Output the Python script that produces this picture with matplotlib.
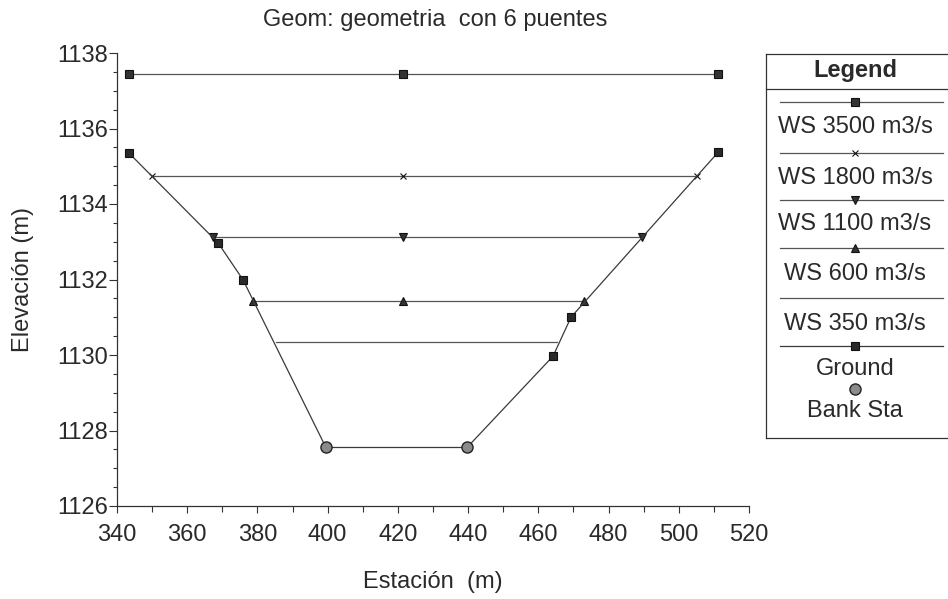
import matplotlib
matplotlib.use("Agg")
import matplotlib.pyplot as plt
from matplotlib.lines import Line2D
from matplotlib.ticker import MultipleLocator

plt.rcParams['font.family'] = ['Liberation Sans', 'DejaVu Sans']

# Cross-section ground profile
ground_x = [343.4, 368.8, 375.9, 399.5, 439.7, 464.2, 469.3, 511.3]
ground_y = [1135.35, 1132.97, 1131.99, 1127.55, 1127.55, 1129.97, 1131.0, 1135.38]

# Bank stations
bank_x = [399.5, 439.7]
bank_y = [1127.55, 1127.55]

# Water surfaces: label, elevation, left edge, right edge
ws_labels = ["WS 3500 m3/s", "WS 1800 m3/s", "WS 1100 m3/s", "WS 600 m3/s", "WS 350 m3/s"]
ws_elev = [1137.45, 1134.75, 1133.12, 1131.43, 1130.35]
ws_left = [343.4, 350.0, 367.3, 378.7, 385.3]
ws_right = [511.3, 505.2, 489.6, 473.0, 465.4]
ws_mid = 421.5
ws_markers = ["s", "x", "v", "^", None]

line_col = "#555555"
text_col = "#2a2a2a"

fig = plt.figure(figsize=(9.48, 5.99), dpi=100)
ax = fig.add_axes([117 / 948, 93 / 599, 632 / 948, 453 / 599])

for lab, el, xl, xr, mk in zip(ws_labels, ws_elev, ws_left, ws_right, ws_markers):
    ax.plot([xl, xr], [el, el], color=line_col, lw=0.9, zorder=2)
    if mk is not None:
        ax.plot([xl, ws_mid, xr], [el, el, el], ls="none", marker=mk,
                ms=5.5 if mk != "x" else 5, mfc="#333333", mec="#111111",
                mew=0.8, zorder=3)

ax.plot(ground_x, ground_y, color="#3a3a3a", lw=0.9, marker="s", ms=6,
        mfc="#2a2a2a", mec="#111111", mew=0.8, zorder=4)
ax.plot(bank_x, bank_y, ls="none", marker="o", ms=8, mfc="#8a8a8a",
        mec="#222222", mew=1.0, zorder=5)

ax.set_xlim(340, 520)
ax.set_ylim(1126, 1138)
ax.xaxis.set_major_locator(MultipleLocator(20))
ax.xaxis.set_minor_locator(MultipleLocator(10))
ax.yaxis.set_major_locator(MultipleLocator(2))
ax.yaxis.set_minor_locator(MultipleLocator(0.5))
for s in ("top", "right"):
    ax.spines[s].set_visible(False)
for s in ("left", "bottom"):
    ax.spines[s].set_color("#333333")
    ax.spines[s].set_linewidth(0.9)
ax.tick_params(which="both", direction="out", width=0.8, colors="#333333",
               labelsize=17, labelcolor=text_col)
ax.tick_params(axis="x", which="major", length=5, pad=8)
ax.tick_params(axis="x", which="minor", length=4)
ax.tick_params(axis="y", which="major", length=5.5, pad=0.8)
ax.tick_params(axis="y", which="minor", length=3)

ax.set_xlabel("Estación  (m)", fontsize=17, color=text_col, labelpad=18)
ax.set_ylabel("Elevación (m)", fontsize=17, color=text_col, labelpad=17)
fig.text(435 / 948, 1 - 20 / 599, "Geom: geometria  con 6 puentes",
         ha="center", va="center", fontsize=17, color=text_col)

# Legend box on the right
def fy(py):
    return 1 - py / 599

lx0, lx1, cx = 766 / 948, 1.0, 855 / 948
for py in (54, 89, 438):
    fig.add_artist(Line2D([lx0, lx1], [fy(py), fy(py)], transform=fig.transFigure,
                          color="#333333", lw=0.9))
fig.add_artist(Line2D([lx0, lx0], [fy(54), fy(438)], transform=fig.transFigure,
                      color="#333333", lw=0.9))
fig.text(cx, fy(71), "Legend", ha="center", va="center", fontsize=17,
         fontweight="bold", color=text_col)

sample_y = [102, 153, 200, 248, 298]
text_y = [127, 178, 224, 274, 324]
for lab, mk, sy, ty in zip(ws_labels, ws_markers, sample_y, text_y):
    fig.add_artist(Line2D([780 / 948, 943 / 948], [fy(sy), fy(sy)],
                          transform=fig.transFigure, color=line_col, lw=0.9))
    if mk is not None:
        fig.add_artist(Line2D([cx], [fy(sy)], transform=fig.transFigure, ls="none",
                              marker=mk, ms=5.5 if mk != "x" else 5, mfc="#333333",
                              mec="#111111", mew=0.8))
    fig.text(cx, fy(ty), lab, ha="center", va="center", fontsize=17, color=text_col)

fig.add_artist(Line2D([780 / 948, 943 / 948], [fy(346), fy(346)], transform=fig.transFigure,
                      color="#3a3a3a", lw=0.9))
fig.add_artist(Line2D([cx], [fy(346)], transform=fig.transFigure, ls="none", marker="s",
                      ms=6, mfc="#2a2a2a", mec="#111111", mew=0.8))
fig.text(cx, fy(369), "Ground", ha="center", va="center", fontsize=17, color=text_col)
fig.add_artist(Line2D([cx], [fy(389)], transform=fig.transFigure, ls="none", marker="o",
                      ms=8, mfc="#8a8a8a", mec="#222222", mew=1.0))
fig.text(cx, fy(411), "Bank Sta", ha="center", va="center", fontsize=17, color=text_col)

fig.savefig("out.png", dpi=100)
